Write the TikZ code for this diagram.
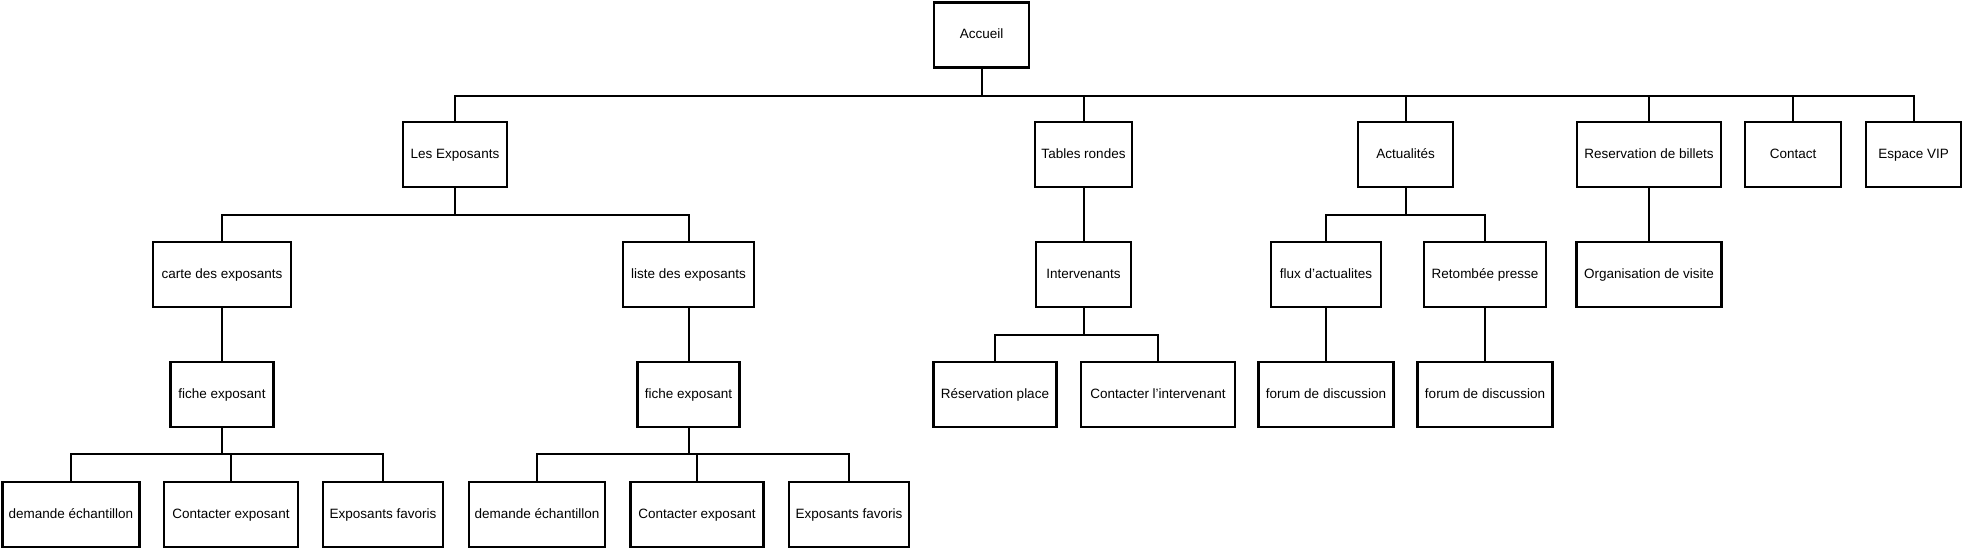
\documentclass[tikz,border=0pt]{standalone}
\usepackage{fontspec}
\setmainfont{Liberation Sans}
\begin{document}
\begin{tikzpicture}[x=1pt,y=-1pt,
  box/.style={draw, line width=2.6pt, inner sep=0pt, minimum height=65pt, fill=white,
              text height=9.5pt, text depth=2.5pt,
              font=\fontsize{13.5}{15}\selectfont},
  conn/.style={line width=2pt}]
\useasboundingbox (0,0) rectangle (1964,550);
% row 0
\node[box, minimum width=95pt] (acc) at (981.5,35) {Accueil};
% row 1
\node[box, minimum width=104pt] (expo) at (455,154.5) {Les Exposants};
\node[box, minimum width=97pt] (tables) at (1083.5,154.5) {Tables rondes};
\node[box, minimum width=95pt] (actu) at (1405.5,154.5) {Actualités};
\node[box, minimum width=144pt] (resa) at (1649,154.5) {Reservation de billets};
\node[box, minimum width=96pt] (contact) at (1793,154.5) {Contact};
\node[box, minimum width=95pt] (vip) at (1913.5,154.5) {Espace VIP};
% row 2
\node[box, minimum width=138pt] (carte) at (222,274.5) {carte des exposants};
\node[box, minimum width=131pt] (liste) at (688.5,274.5) {liste des exposants};
\node[box, minimum width=95pt] (interv) at (1083.5,274.5) {Intervenants};
\node[box, minimum width=110pt] (flux) at (1326,274.5) {flux d'actualites};
\node[box, minimum width=122pt] (retom) at (1485,274.5) {Retombée presse};
\node[box, minimum width=145pt] (orga) at (1649,274.5) {Organisation de visite};
% row 3
\node[box, minimum width=103pt] (fiche1) at (222,394.5) {fiche exposant};
\node[box, minimum width=102pt] (fiche2) at (688.5,394.5) {fiche exposant};
\node[box, minimum width=123pt] (resplace) at (995,394.5) {Réservation place};
\node[box, minimum width=154pt] (continterv) at (1158,394.5) {Contacter l'intervenant};
\node[box, minimum width=135pt] (forum1) at (1326,394.5) {forum de discussion};
\node[box, minimum width=135pt] (forum2) at (1485,394.5) {forum de discussion};
% row 4
\node[box, minimum width=137pt] (dem1) at (71,514.5) {demande échantillon};
\node[box, minimum width=134pt] (cont1) at (231,514.5) {Contacter exposant};
\node[box, minimum width=120pt] (fav1) at (383,514.5) {Exposants favoris};
\node[box, minimum width=136pt] (dem2) at (537,514.5) {demande échantillon};
\node[box, minimum width=133pt] (cont2) at (697,514.5) {Contacter exposant};
\node[box, minimum width=120pt] (fav2) at (849,514.5) {Exposants favoris};
% bus levels
\coordinate (b0) at (0,95.5);
\coordinate (b1) at (0,215);
\coordinate (b2) at (0,335);
\coordinate (b3) at (0,454);
% connectors
\foreach \c in {expo,tables,actu,resa,contact,vip}
  \draw[conn] (acc.south) -- (acc.south |- b0) -| (\c.north);
\foreach \c in {carte,liste}
  \draw[conn] (expo.south) -- (expo.south |- b1) -| (\c.north);
\foreach \c in {flux,retom}
  \draw[conn] (actu.south) -- (actu.south |- b1) -| (\c.north);
\foreach \c in {resplace,continterv}
  \draw[conn] (interv.south) -- (interv.south |- b2) -| (\c.north);
\foreach \c in {dem1,cont1,fav1}
  \draw[conn] (fiche1.south) -- (fiche1.south |- b3) -| (\c.north);
\foreach \c in {dem2,cont2,fav2}
  \draw[conn] (fiche2.south) -- (fiche2.south |- b3) -| (\c.north);
\draw[conn] (tables.south) -- (interv.north);
\draw[conn] (resa.south) -- (orga.north);
\draw[conn] (carte.south) -- (fiche1.north);
\draw[conn] (liste.south) -- (fiche2.north);
\draw[conn] (flux.south) -- (forum1.north);
\draw[conn] (retom.south) -- (forum2.north);
\end{tikzpicture}
\end{document}
